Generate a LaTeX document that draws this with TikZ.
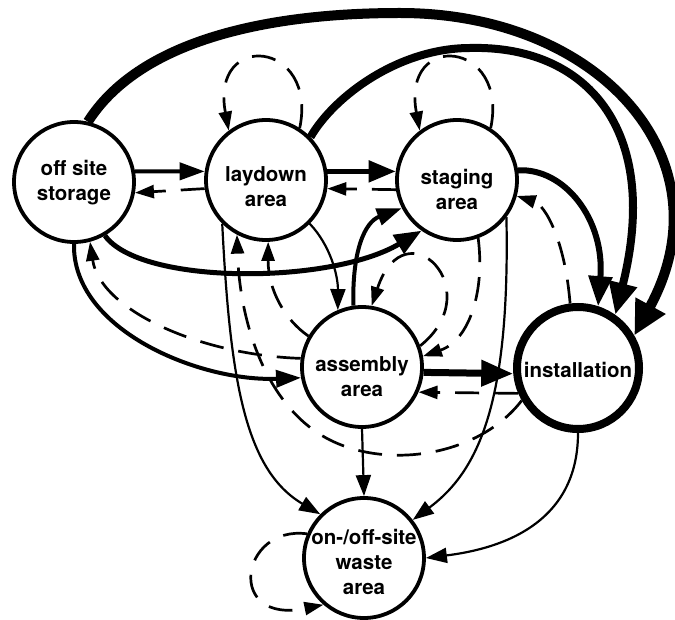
\documentclass[tikz,border=0pt]{standalone}
\usepackage{fontspec}
\setmainfont{TeX Gyre Heros}
\usetikzlibrary{arrows.meta}
\begin{document}
\begin{tikzpicture}[x=1pt,y=-1pt,
  stn/.style={circle,draw,line width=3.8pt,minimum size=120pt,inner sep=0pt},
  inst/.style={circle,draw,line width=8pt,minimum size=122pt,inner sep=0pt},
  lbl/.style={font=\fontsize{20.5}{25}\selectfont\bfseries,align=center,inner sep=0pt},
  w2/.style={line width=2.2pt,-{Triangle[length=21pt,width=15pt]}},
  dsh/.style={line width=2.7pt,dash pattern=on 24pt off 15pt,-{Triangle[length=19pt,width=13pt]}},
  w4/.style={line width=4pt,-{Triangle[length=25pt,width=17pt]}},
  w5/.style={line width=5pt,-{Triangle[length=27pt,width=21pt]}},
  w6/.style={line width=6pt,-{Triangle[length=30pt,width=23pt]}},
  w7/.style={line width=7pt,-{Triangle[length=32pt,width=25pt]}},
  w8/.style={line width=8pt,-{Triangle[length=32pt,width=27pt]}},
  w10/.style={line width=10pt,-{Triangle[length=34pt,width=32pt]}},
]
\useasboundingbox (0,0) rectangle (675,620);
% nodes
\node[stn] (S) at (74,182) {};
\node[stn] (L) at (266,180) {};
\node[stn] (G) at (457,180) {};
\node[stn] (A) at (362,367) {};
\node[inst] (I) at (578,368) {};
\node[stn] (W) at (364,558) {};
\node[lbl] (St) at ([yshift=-1pt]S.center) {off site\\storage};
\node[lbl] (Lt) at ([yshift=-7pt]L.center) {laydown\\area};
\node[lbl] (Gt) at ([yshift=-9pt]G.center) {staging\\area};
\node[lbl] (At) at ([yshift=-10pt]A.center) {assembly\\area};
\node[lbl] (It) at ([yshift=-2pt]I.center) {installation};
\node[lbl] (Wt) at ([yshift=-4pt]W.center) {on-/off-site\\waste\\area};
% storage <-> laydown
\draw[w4] (S.10) -- (L.172);
\draw[dsh] (L.188) -- (S.350);
% laydown <-> staging
\draw[w5] (L.8) -- (G.172);
\draw[dsh] (G.189) -- (L.352);
% self loops
\draw[dsh] (L.57) .. controls (318,40) and (210,30) .. (L.127);
\draw[dsh] (G.57) .. controls (509,40) and (401,30) .. (G.127);
\draw[dsh] (A.20) .. controls (490,290) and (405,205) .. (A.81);
\draw[dsh] (W.157) .. controls (240,525) and (225,625) .. (W.-131);
% to installation
\draw[w10] (S.77) .. controls (138,43) and (260,13) .. (400,13) .. controls (600,13) and (730,160) .. (I.30);
\draw[w8] (L.44) .. controls (335,95) and (400,48) .. (470,48) .. controls (585,45) and (662,128) .. (I.55);
\draw[w6] (G.9) .. controls (565,168) and (605,220) .. (I.72);
\draw[dsh] (I.97) .. controls (565,240) and (545,205) .. (G.-15);
% storage -> staging, assembly
\draw[w5] (S.-60) .. controls (140,285) and (330,285) .. (G.-125);
\draw[w4] (S.-90) .. controls (72,330) and (200,382) .. (A.190);
\draw[dsh] (A.172) .. controls (200,355) and (100,310) .. (S.-75);
% assembly <-> staging
\draw[w4] (A.98) .. controls (352,250) and (365,222) .. (G.207);
\draw[dsh] (G.-70) .. controls (485,290) and (470,340) .. (A.10);
% to laydown from below
\draw[dsh] (A.150) .. controls (285,320) and (268,290) .. (L.-88);
\draw[dsh] (I.210) .. controls (480,455) and (390,470) .. (330,440) .. controls (270,410) and (240,330) .. (L.-118);
% thin solid
\draw[w2] (L.-45) .. controls (330,245) and (338,275) .. (A.113);
\draw[w2] (L.225) .. controls (230,380) and (245,470) .. (W.135);
\draw[w2] (G.-37) .. controls (510,400) and (480,470) .. (W.38);
\draw[w2] (I.-90) .. controls (578,530) and (490,550) .. (W.0);
\draw[w2] (A.-90) -- (W.90);
% assembly <-> installation
\draw[w7] (A.-5) -- (I.185);
\draw[dsh] (I.203) -- (A.-24);
\end{tikzpicture}
\end{document}
